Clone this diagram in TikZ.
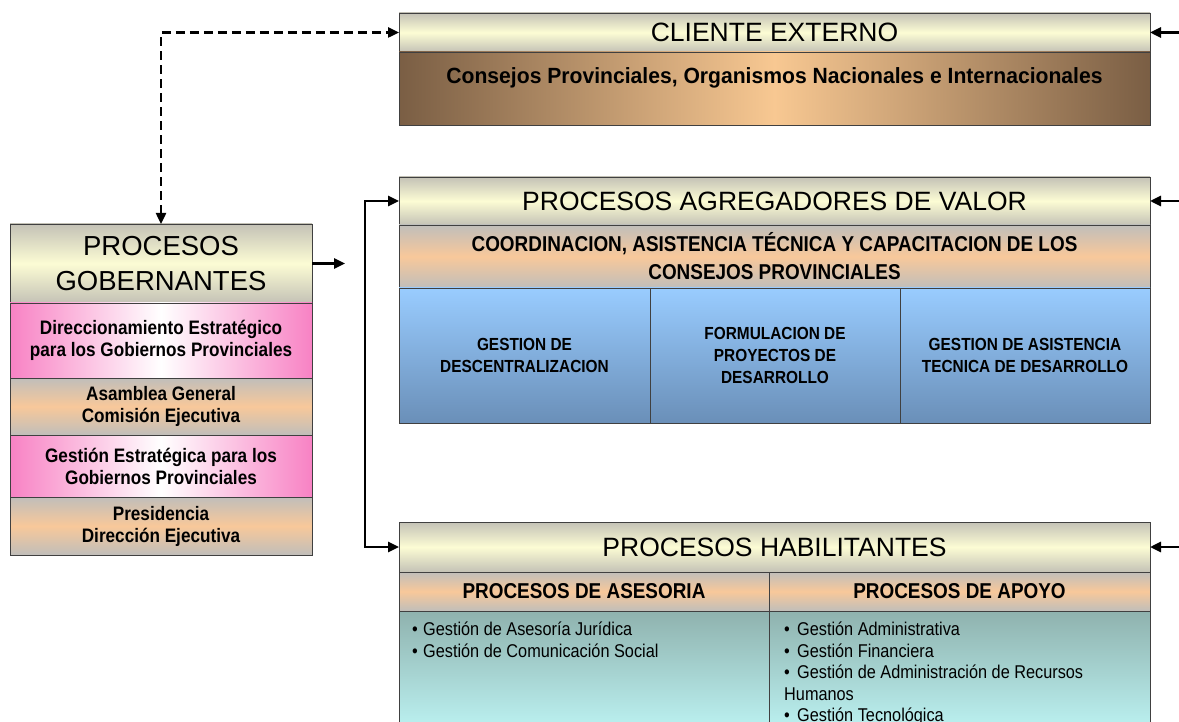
\documentclass[tikz,border=0pt]{standalone}
\usepackage{fontspec}
\setmainfont{Liberation Sans}
\newfontfamily\condfont[FakeStretch=0.88]{Liberation Sans}
\newfontfamily\widefont[FakeStretch=0.96]{Liberation Sans}
\usetikzlibrary{arrows.meta,positioning,calc}
\definecolor{edge}{HTML}{404040}
\definecolor{hdrgrey}{HTML}{C4C2B6}
\definecolor{hdrcream}{HTML}{FCFCD4}
\definecolor{brownedge}{HTML}{7A5E44}
\definecolor{browncore}{HTML}{F8C892}
\definecolor{peach}{HTML}{F8C89A}
\definecolor{bandgrey}{HTML}{C0BEBA}
\definecolor{pinkedge}{HTML}{F882C4}
\definecolor{bluetop}{HTML}{99CCFF}
\definecolor{bluebot}{HTML}{6A8FB8}
\definecolor{tealtop}{HTML}{8FB2AE}
\definecolor{tealbot}{HTML}{C0F8F8}

\begin{document}
\begin{tikzpicture}[x=1pt,y=-1pt,
    band/.style={draw=edge,line width=0.8pt,inner sep=0pt,outer sep=0pt,align=center},
    hdr/.style={band,minimum width=751pt,minimum height=39pt,
                top color=hdrgrey,bottom color=hdrgrey,middle color=hdrcream,
                font=\fontsize{26.5}{30}\selectfont},
    peachband/.style={band,top color=bandgrey,bottom color=bandgrey,middle color=peach},
    pinkband/.style={band,left color=pinkedge,right color=pinkedge,middle color=white},
    bluecell/.style={band,minimum width=250pt,minimum height=135pt,
                     top color=bluetop,bottom color=bluebot,
                     font=\condfont\bfseries\fontsize{17.5}{22}\selectfont},
    tealcell/.style={band,minimum height=130pt,top color=tealtop,bottom color=tealbot},
    gobtxt/.style={minimum width=302pt,font=\condfont\bfseries\fontsize{19.5}{22}\selectfont},
    subhdr/.style={font=\condfont\bfseries\fontsize{21.5}{28}\selectfont},
    bullets/.style={inner sep=0pt,align=left,font=\condfont\fontsize{18.5}{21.5}\selectfont},
    arr/.style={-{Triangle[length=11pt,width=10pt]},line width=2.6pt},
    biarr/.style={{Triangle[length=11pt,width=10pt]}-{Triangle[length=11pt,width=10pt]},line width=2.6pt},
    node distance=0pt
  ]
    \useasboundingbox (0,0) rectangle (1179,722);
    \clip (0,0) rectangle (1179,722);

    % cliente externo
    \node[hdr,anchor=north west] (ce) at (399,13) {CLIENTE EXTERNO};
    \node[band,minimum width=751pt,minimum height=73pt,
          left color=brownedge,right color=brownedge,middle color=browncore,
          below=of ce] (cebody) {};
    \node[inner sep=0pt,font=\widefont\bfseries\fontsize{22}{26}\selectfont,
          below=15pt of cebody.north] (cetxt) {Consejos Provinciales, Organismos Nacionales e Internacionales};

    % procesos gobernantes
    \node[hdr,minimum width=302pt,minimum height=79pt,anchor=north west,
          font=\fontsize{27.5}{35}\selectfont] (gob) at (10,224) {PROCESOS\\GOBERNANTES};
    \node[pinkband,gobtxt,minimum height=75pt,below=of gob] (gdir) {Direccionamiento Estratégico\\para los Gobiernos Provinciales};
    \node[peachband,gobtxt,minimum height=57pt,below=of gdir] (gasa) {Asamblea General\\Comisión Ejecutiva};
    \node[pinkband,gobtxt,minimum height=62pt,below=of gasa] (gest) {Gestión Estratégica para los\\Gobiernos Provinciales};
    \node[peachband,gobtxt,minimum height=58pt,below=of gest] (gpre) {Presidencia\\Dirección Ejecutiva};

    % procesos agregadores de valor
    \node[hdr,minimum height=48pt,anchor=north west] (pav) at (399,177) {PROCESOS AGREGADORES DE VALOR};
    \node[peachband,subhdr,minimum width=751pt,minimum height=63pt,below=of pav] (pavcoord)
         {COORDINACION, ASISTENCIA TÉCNICA Y CAPACITACION DE LOS\\CONSEJOS PROVINCIALES};
    \node[bluecell,minimum width=251pt,anchor=north west] (gdesc) at (pavcoord.south west) {GESTION DE\\DESCENTRALIZACION};
    \node[bluecell,right=of gdesc] (gform) {FORMULACION DE\\PROYECTOS DE\\DESARROLLO};
    \node[bluecell,right=of gform] (gasis) {GESTION DE ASISTENCIA\\TECNICA DE DESARROLLO};

    % procesos habilitantes
    \node[hdr,minimum height=50pt,anchor=north west] (ph) at (399,522) {PROCESOS HABILITANTES};
    \node[peachband,subhdr,minimum width=370pt,minimum height=39pt,anchor=north west] (pase) at (ph.south west) {PROCESOS DE ASESORIA};
    \node[peachband,subhdr,minimum width=381pt,minimum height=39pt,right=of pase] (papo) {PROCESOS DE APOYO};
    \node[tealcell,minimum width=370pt,anchor=north west] (tase) at (pase.south west) {};
    \node[tealcell,minimum width=381pt,right=of tase] (tapo) {};
    \node[bullets,anchor=north west] (lase) at ($(tase.north west)+(13,11)$)
         {\makebox[11pt][l]{•}Gestión de Asesoría Jurídica\\
          \makebox[11pt][l]{•}Gestión de Comunicación Social};
    \node[bullets,anchor=north west] (lapo) at ($(tapo.north west)+(15,11)$)
         {\makebox[13pt][l]{•}Gestión Administrativa\\
          \makebox[13pt][l]{•}Gestión Financiera\\
          \makebox[13pt][l]{•}Gestión de Administración de Recursos\\
          Humanos\\
          \makebox[13pt][l]{•}Gestión Tecnológica};

    % connectors
    \coordinate (cein)  at ($(ce.east)+(40,0)$);
    \coordinate (pavin) at ($(pav.east)+(40,0)$);
    \coordinate (phin)  at ($(ph.east)+(40,0)$);
    \coordinate (gobout) at ($(gob.east)+(33,0)$);

    \draw[biarr,line width=2.4pt,dash pattern=on 9pt off 5pt] (gob.north) |- (ce.west);
    \draw[arr] (gob.east) -- (gobout);
    \draw[biarr] (pav.west) -- ++(-34,0) |- (ph.west);
    \draw[arr] (cein)  -- (ce.east);
    \draw[arr] (pavin) -- (pav.east);
    \draw[arr] (phin)  -- (ph.east);
  \end{tikzpicture}
\end{document}
